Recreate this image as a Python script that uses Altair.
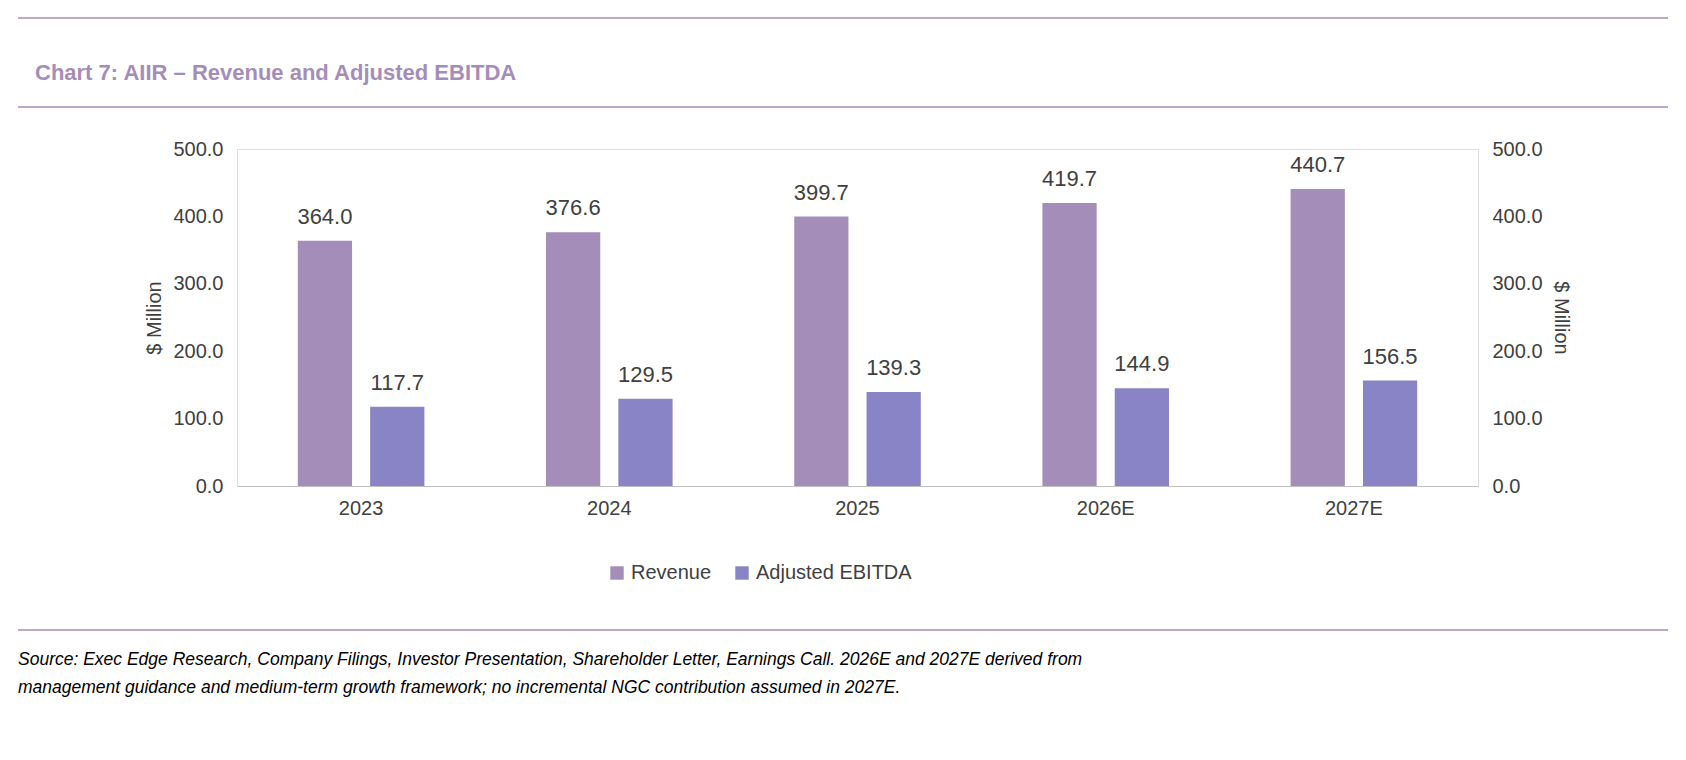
import altair as alt
import pandas as pd

years = ["2023", "2024", "2025", "2026E", "2027E"]
revenue = [364.0, 376.6, 399.7, 419.7, 440.7]
ebitda = [117.7, 129.5, 139.3, 144.9, 156.5]
series = ["Revenue", "Adjusted EBITDA"]
colors = ["#A58DB9", "#8884C6"]
title_text = "Chart 7: AIIR \u2013 Revenue and Adjusted EBITDA"
source_lines = [
    "Source: Exec Edge Research, Company Filings, Investor Presentation, Shareholder Letter, Earnings Call. 2026E and 2027E derived from",
    "management guidance and medium-term growth framework; no incremental NGC contribution assumed in 2027E.",
]

rows = []
for y, r, e in zip(years, revenue, ebitda):
    rows.append({"Year": y, "Series": series[0], "Value": r})
    rows.append({"Year": y, "Series": series[1], "Value": e})
df = pd.DataFrame(rows)

W, H = 1241, 337
x = alt.X("Year:N", sort=years, title=None,
          scale=alt.Scale(paddingInner=0.49, paddingOuter=0.245),
          axis=alt.Axis(labelAngle=0, labelFontSize=20, labelColor="#404040",
                        labelPadding=12, ticks=False, domainColor="#BFBFBF"))
xo = alt.XOffset("Series:N", sort=series, scale=alt.Scale(paddingInner=0.25))
y = alt.Y("Value:Q", title="$ Million", scale=alt.Scale(domain=[0, 500]),
          axis=alt.Axis(values=[0, 100, 200, 300, 400, 500], format=".1f", grid=False,
                        domain=False, ticks=False, labelFontSize=20, labelColor="#404040",
                        labelPadding=14, titleFontSize=20, titleFontWeight="normal",
                        titleColor="#404040", titlePadding=8))
color = alt.Color("Series:N", sort=series, scale=alt.Scale(domain=series, range=colors),
                  legend=alt.Legend(title=None, orient="none", legendX=370, legendY=414,
                                    direction="horizontal", labelFontSize=20, labelColor="#404040",
                                    symbolType="square", symbolSize=180, symbolStrokeWidth=0,
                                    columnPadding=20, labelOffset=4))

base = alt.Chart(df).encode(x=x, xOffset=xo, y=y)
bars = base.mark_bar().encode(color=color)
labels = base.mark_text(dy=-24, fontSize=22, color="#404040").encode(text=alt.Text("Value:Q", format=".1f"))

line_df = pd.DataFrame({"y": [-131, -42, 481]})
rules = alt.Chart(line_df).mark_rule(color="#A58DB9", strokeWidth=1.5).encode(
    x=alt.value(-219), x2=alt.value(1431),
    y=alt.Y("y:Q", scale=None, axis=None), y2=alt.Y2("y:Q"))

title = alt.Chart(pd.DataFrame({"t": [title_text]})).mark_text(
    align="left", baseline="middle", fontSize=22, fontWeight="bold", color="#A58DB9"
).encode(x=alt.value(-202), y=alt.value(-76), text="t:N")

src = alt.Chart(pd.DataFrame({"t": source_lines, "y": [511, 539]})).mark_text(
    align="left", baseline="middle", fontSize=17.5, fontStyle="italic", color="#000000"
).encode(x=alt.value(-219), y=alt.Y("y:Q", scale=None, axis=None), text="t:N")

chart = alt.layer(bars, labels, rules, title, src).resolve_scale(y="independent").properties(
    width=W, height=H, autosize=alt.AutoSizeParams(type="none"),
    padding={"left": 229, "top": 141, "right": 200, "bottom": 266}
).configure_view(stroke=None).configure(font="Arial")

chart.save("out.html", embed_options={"renderer": "svg", "actions": False})
